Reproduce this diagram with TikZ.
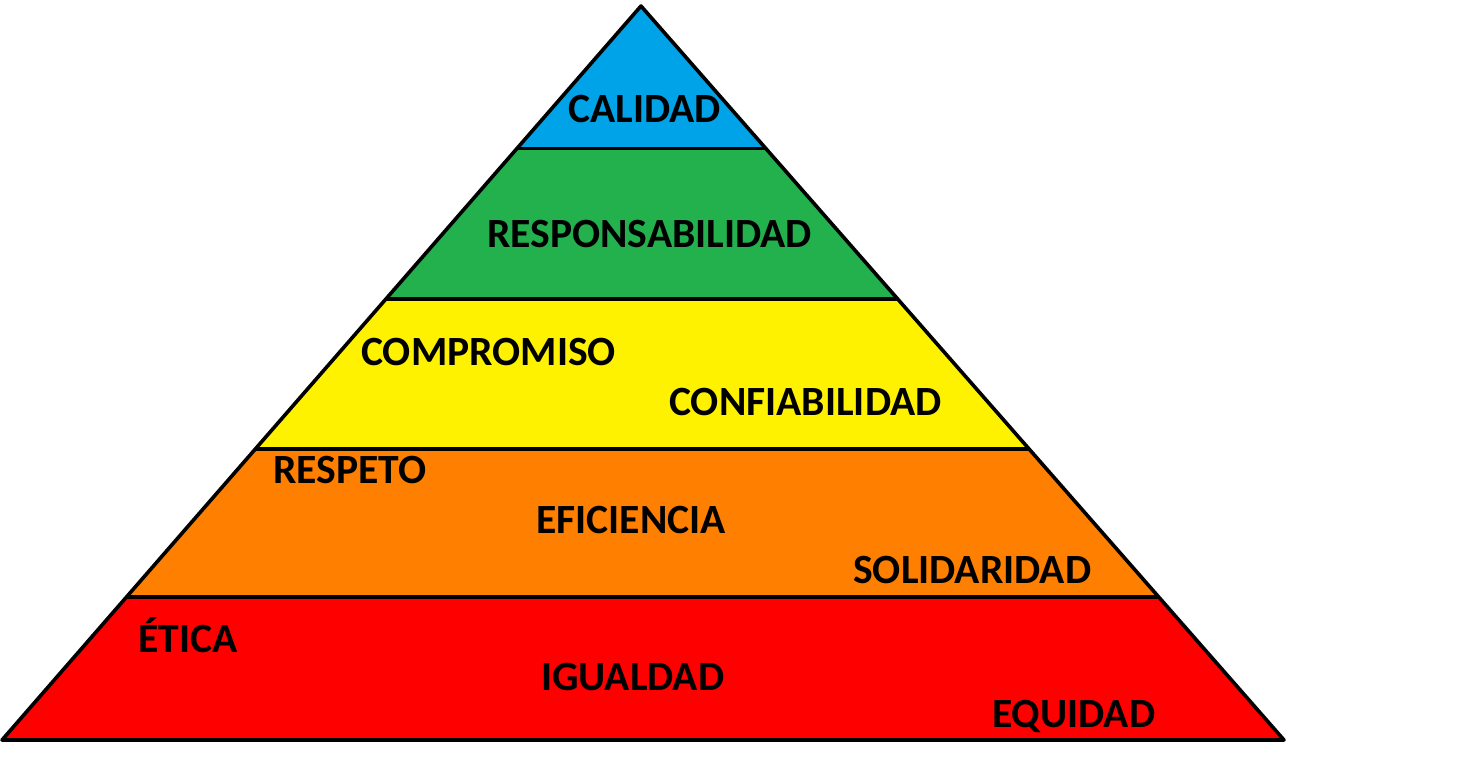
\documentclass[tikz,border=0pt]{standalone}
\usepackage{fontspec}
\setmainfont{Carlito}
\definecolor{cblue}{HTML}{00A2E8}
\definecolor{cgreen}{HTML}{22B14C}
\definecolor{cyellow}{HTML}{FFF200}
\definecolor{corange}{HTML}{FF7F00}
\definecolor{cred}{HTML}{FF0000}
\begin{document}
\begin{tikzpicture}[x=1pt,y=-1pt,
  band/.style={draw=black,line width=3.6pt,line join=round},
  lbl/.style={anchor=base west,inner sep=0pt,font=\fontsize{41.6}{42}\selectfont\bfseries,text=black}]
\useasboundingbox (0,0) rectangle (1478,768);
\fill[white] (0,0) rectangle (1478,768);
\coordinate (top) at (641,6);
\coordinate (l1) at (516.9,148.5); \coordinate (r1) at (765.8,148.5);
\coordinate (l2) at (385.9,299);   \coordinate (r2) at (897.7,299);
\coordinate (l3) at (255.3,449);   \coordinate (r3) at (1029.1,449);
\coordinate (l4) at (126.5,597);   \coordinate (r4) at (1158.7,597);
\coordinate (l5) at (2,740);       \coordinate (r5) at (1284,740);
\fill[cblue] (top) -- (r1) -- (l1) -- cycle;
\fill[cgreen] (l1) -- (r1) -- (r2) -- (l2) -- cycle;
\fill[cyellow] (l2) -- (r2) -- (r3) -- (l3) -- cycle;
\fill[corange] (l3) -- (r3) -- (r4) -- (l4) -- cycle;
\fill[cred] (l4) -- (r4) -- (r5) -- (l5) -- cycle;
\draw[band] (top) -- (r5) -- (l5) -- cycle;
\draw[band] (l1) -- (r1);
\draw[band] (l2) -- (r2);
\draw[band] (l3) -- (r3);
\draw[band] (l4) -- (r4);
\node[lbl] (calidad) at (568,122) {CALIDAD};
\node[lbl] (resp) at (487,247) {RESPONSABILIDAD};
\node[lbl] (comp) at (361,365) {COMPROMISO};
\node[lbl] (conf) at (669,415) {CONFIABILIDAD};
\node[lbl] (respeto) at (273,483) {RESPETO};
\node[lbl] (efic) at (536,533) {EFICIENCIA};
\node[lbl] (solid) at (853,583) {SOLIDARIDAD};
\node[lbl] (etica) at (138,652) {ÉTICA};
\node[lbl] (igual) at (541,690) {IGUALDAD};
\node[lbl] (equid) at (992,727) {EQUIDAD};
\end{tikzpicture}
\end{document}
